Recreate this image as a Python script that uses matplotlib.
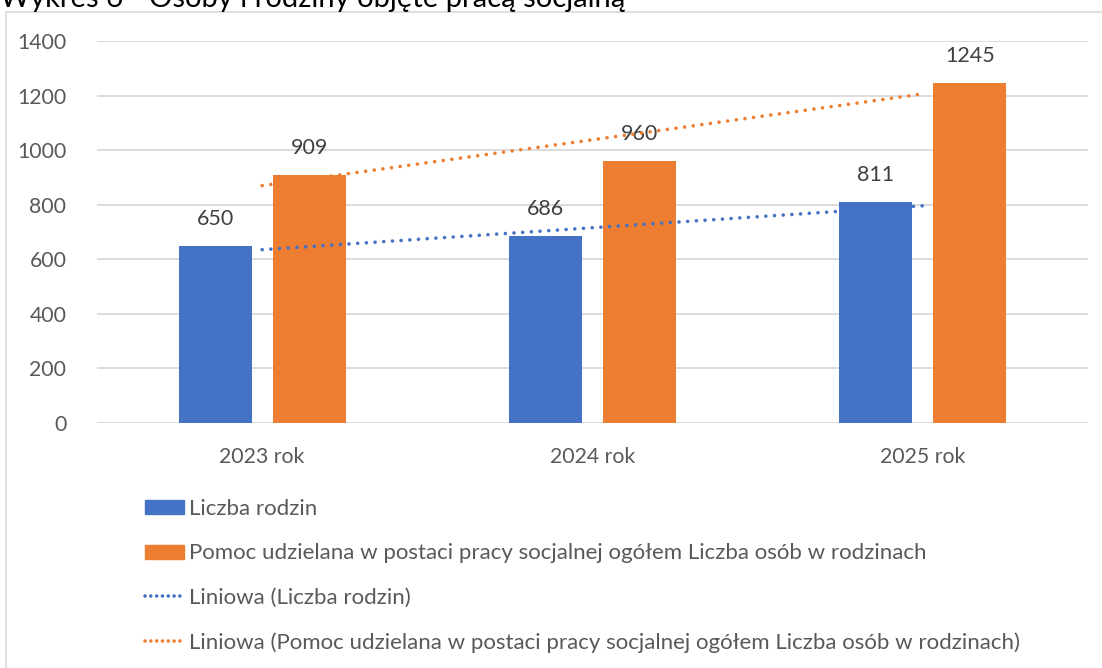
import matplotlib
matplotlib.use("Agg")
import matplotlib.pyplot as plt
import numpy as np
from matplotlib.patches import Rectangle, Patch
from matplotlib.lines import Line2D

plt.rcParams['font.family'] = ['Lato', 'DejaVu Sans']

categories = ["2023 rok", "2024 rok", "2025 rok"]
liczba_rodzin = [650, 686, 811]
liczba_osob = [909, 960, 1245]
series_names = ["Liczba rodzin",
                "Pomoc udzielana w postaci pracy socjalnej ogółem Liczba osób w rodzinach"]
trend_names = ["Liniowa (Liczba rodzin)",
               "Liniowa (Pomoc udzielana w postaci pracy socjalnej ogółem Liczba osób w rodzinach)"]
yticks = [0, 200, 400, 600, 800, 1000, 1200, 1400]
title = "Wykres 6 - Osoby i rodziny objęte pracą socjalną"

blue = "#4472C4"
orange = "#ED7D31"
txt = "#404040"
tick_c = "#595959"

fig = plt.figure(figsize=(11.02, 6.68), dpi=100)
W, H = 1102, 668

# chart border
fig.patches.append(Rectangle((6 / W, -0.01), 1.2, 1 - 12 / H + 0.01, transform=fig.transFigure,
                             fill=False, edgecolor="#D9D9D9", linewidth=1.2))
fig.text(0 / W, 1 - 7 / H, title, fontsize=21, color="black", va="baseline", ha="left")

ax = fig.add_axes([97 / W, 1 - 423 / H, (1088 - 97) / W, (423 - 41) / H])
x = np.arange(len(categories))
bw = 0.221
off = 0.142
b1 = ax.bar(x - off, liczba_rodzin, bw, color=blue, zorder=2)
b2 = ax.bar(x + off, liczba_osob, bw, color=orange, zorder=2)
for bars, vals in ((b1, liczba_rodzin), (b2, liczba_osob)):
    for r, v in zip(bars, vals):
        ax.text(r.get_x() + r.get_width() / 2, v + 62, f"{v}", ha="center", va="bottom",
                fontsize=15.5, color=txt)

# linear trendlines
dots = (0, (0.01, 2.4))
for vals, c in ((liczba_rodzin, blue), (liczba_osob, orange)):
    k, b = np.polyfit(x, vals, 1)
    ax.plot(x, k * x + b, color=c, lw=2.6, linestyle=dots, dash_capstyle="round", zorder=3)

ax.set_xlim(-0.5, 2.5)
ax.set_ylim(0, 1400)
ax.set_yticks(yticks)
ax.set_xticks(x)
ax.set_xticklabels(categories)
ax.yaxis.grid(True, color="#D9D9D9", lw=1.3, zorder=0)
ax.set_axisbelow(True)
for s in ax.spines.values():
    s.set_visible(False)
ax.tick_params(axis="both", length=0, labelsize=15.3, colors=tick_c)
ax.tick_params(axis="y", pad=22)
ax.tick_params(axis="x", pad=17)

handles = [Patch(color=blue), Patch(color=orange),
           Line2D([], [], color=blue, lw=2.6, linestyle=(0, (0.01, 1.6)), dash_capstyle="round"),
           Line2D([], [], color=orange, lw=2.6, linestyle=(0, (0.01, 1.6)), dash_capstyle="round")]
labels = series_names + trend_names
leg = fig.legend(handles, labels, loc="upper left", bbox_to_anchor=(125 / W, 1 - 479 / H),
                 frameon=False, fontsize=16, labelcolor=tick_c, handlelength=1.75,
                 handleheight=0.6, handletextpad=0.25, labelspacing=1.1)

fig.savefig("out.png", dpi=100)
